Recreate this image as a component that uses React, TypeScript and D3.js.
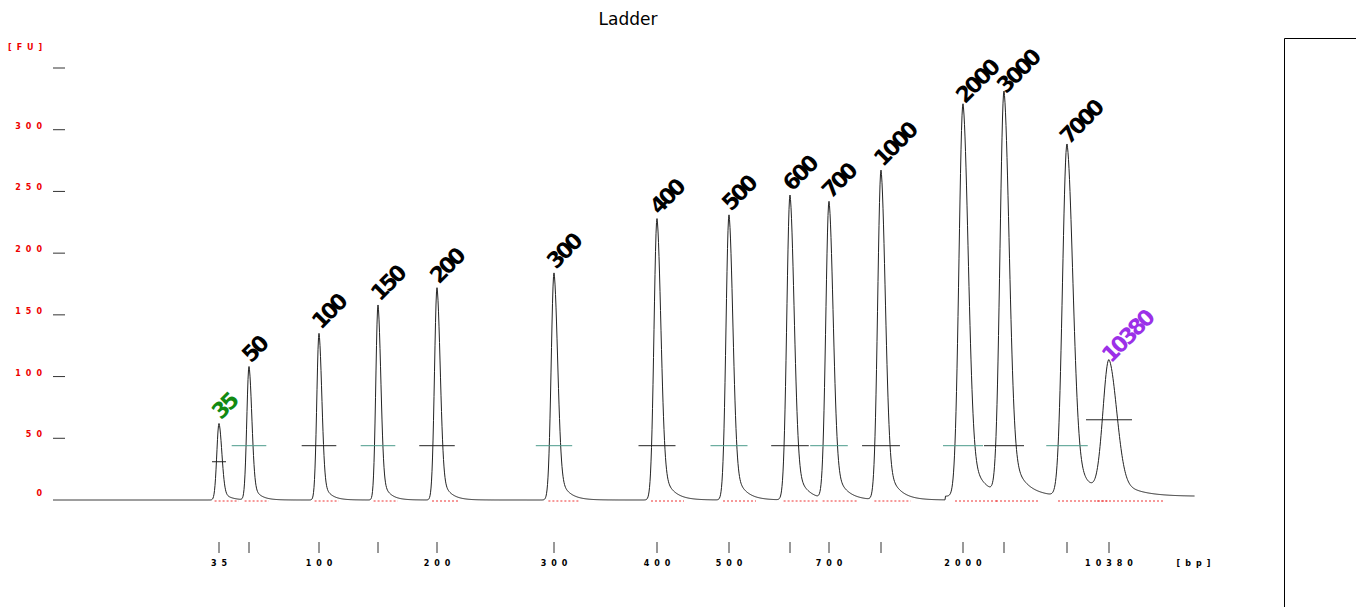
import { useEffect, useRef } from 'react';
import * as d3 from 'd3';

// migration position (time units) and height (FU) of each ladder peak
const peakLabels = ['35', '50', '100', '150', '200', '300', '400', '500', '600', '700', '1000', '2000', '3000', '7000', '10380'];
const peakPos = [219, 249, 319, 378, 437, 554, 657, 729, 790, 829, 881, 963, 1004, 1067, 1109];
const peakHeight = [62, 108, 135, 158, 172, 184, 228, 231, 247, 241, 267, 318, 326, 285, 108];
const peakWidth = [2.2, 2.2, 2.2, 2.2, 2.5, 2.8, 3, 3, 3.2, 3.2, 3.3, 4, 4, 4.5, 6];
const markerLevel = [31, 44, 44, 44, 44, 44, 44, 44, 44, 44, 44, 44, 44, 44, 65];
const markerTeal = [false, true, false, true, false, true, false, true, false, true, false, true, false, true, false];
const xTickShown = ['35', '100', '200', '300', '400', '500', '700', '2000', '10380'];
const yTicks = [0, 50, 100, 150, 200, 250, 300, 350];
const timeDomain = [53, 1195];

const W = 1356;
const H = 607;

export default function App() {
  const ref = useRef<SVGSVGElement>(null);

  useEffect(() => {
    if (!ref.current) return;
    const svg = d3.select(ref.current);
    svg.selectAll('*').remove();

    const x = d3.scaleLinear().domain(timeDomain).range([53, 1195]);
    const y = d3.scaleLinear().domain([0, 350]).range([500, 68]);

    const shape = (t: number) => {
      let v = t > 945 ? 3 : 0;
      peakPos.forEach((p, i) => {
        const d = t - p;
        const s = peakWidth[i];
        const h = peakHeight[i];
        if (d < 0) v += h * Math.exp(-(d * d) / (2 * s * s));
        else v += h * (0.82 * Math.exp(-(d * d) / (2 * (s * 1.3) ** 2)) + 0.18 * Math.exp(-d / (s * 3.2)));
      });
      return v;
    };
    const ts = d3.range(timeDomain[0], timeDomain[1], 0.5);

    const small = (sel: d3.Selection<SVGTextElement, unknown, null, undefined>) =>
      sel.style('font-size', '8px').style('font-weight', 'bold').style('font-family', 'DejaVu Sans')
        .style('letter-spacing', '5px');

    // y axis
    small(svg.append('text').attr('x', 8).attr('y', 50).text('[FU]').attr('fill', '#e00'));
    yTicks.forEach(v => {
      if (v !== 0) {
        svg.append('line').attr('x1', 53).attr('x2', 65).attr('y1', y(v)).attr('y2', y(v))
          .attr('stroke', '#333').attr('stroke-width', 1);
      }
      if (v !== 350) {
        small(svg.append('text').attr('x', 47).attr('y', v === 0 ? 496 : y(v) - 1).attr('text-anchor', 'end')
          .text(String(v)).attr('fill', '#e00'));
      }
    });

    // baseline markers (red dotted)
    peakPos.forEach((p, i) => {
      const w = peakWidth[i];
      svg.append('line').attr('x1', x(p - w * 2)).attr('x2', x(p + w * 9)).attr('y1', 501).attr('y2', 501)
        .attr('stroke', '#e33').attr('stroke-dasharray', '2,2').attr('stroke-width', 1);
    });

    // trace
    const line = d3.line<number>().x(t => x(t)).y(t => y(shape(t)));
    svg.append('path').datum(ts).attr('d', line).attr('fill', 'none').attr('stroke', '#222').attr('stroke-width', 1);

    // peak markers
    peakPos.forEach((p, i) => {
      const w = i === 0 ? 7 : 14 + peakWidth[i] * 1.5;
      svg.append('line').attr('x1', x(p) - w).attr('x2', x(p) + w)
        .attr('y1', y(markerLevel[i])).attr('y2', y(markerLevel[i]))
        .attr('stroke', markerTeal[i] ? '#4a9a8a' : '#222').attr('stroke-width', 1);
    });

    // peak labels
    peakPos.forEach((p, i) => {
      const col = i === 0 ? '#128a12' : i === peakPos.length - 1 ? '#9b30e8' : '#000';
      svg.append('text')
        .attr('transform', `translate(${x(p) + 2},${y(peakHeight[i]) - 3}) rotate(-45)`)
        .text(peakLabels[i]).attr('fill', col)
        .style('font-size', '22px').style('font-weight', 'bold').style('font-family', 'DejaVu Sans')
        .style('letter-spacing', '-3px');
    });

    // x ticks
    peakPos.forEach((p, i) => {
      svg.append('line').attr('x1', x(p)).attr('x2', x(p)).attr('y1', 542).attr('y2', 553).attr('stroke', '#333');
      if (xTickShown.includes(peakLabels[i])) {
        small(svg.append('text').attr('x', x(p) + 2.5).attr('y', 566).attr('text-anchor', 'middle')
          .text(peakLabels[i]));
      }
    });
    small(svg.append('text').attr('x', 1196).attr('y', 566).attr('text-anchor', 'middle').text('[bp]'));

    svg.append('text').attr('x', 628).attr('y', 25).attr('text-anchor', 'middle').text('Ladder')
      .style('font-size', '17px').style('font-family', 'DejaVu Sans');

    svg.append('path').attr('d', 'M1284.5,607 V38.5 H1356').attr('fill', 'none').attr('stroke', '#000');
  }, []);

  return <svg ref={ref} width={W} height={H} style={{ position: 'absolute', left: 0, top: 0, background: '#fff' }} />;
}
